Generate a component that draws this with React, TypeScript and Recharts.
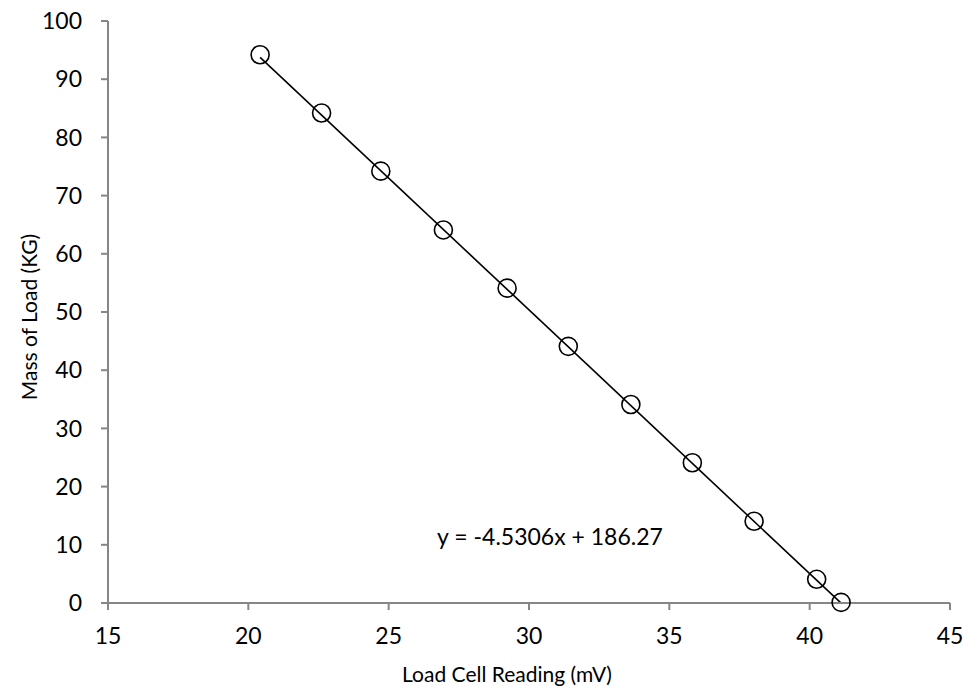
import React from 'react';
import { ScatterChart, Scatter, XAxis, YAxis, ReferenceLine } from 'recharts';

// load cell calibration readings
const readingsMv = [20.42, 22.61, 24.72, 26.95, 29.22, 31.4, 33.63, 35.82, 38.02, 40.25, 41.12];
const massKg = [94.2, 84.2, 74.2, 64.1, 54.1, 44.1, 34.1, 24.1, 14.05, 4.07, 0.1];

const xTicks = [15, 20, 25, 30, 35, 40, 45];
const yTicks = [0, 10, 20, 30, 40, 50, 60, 70, 80, 90, 100];

// linear fit shown on the chart
const slope = -4.5306;
const intercept = 186.27;
const equationText = 'y = -4.5306x + 186.27';

const points = readingsMv.map((x, i) => ({ x, y: massKg[i] }));
const xMin = Math.min(...readingsMv);
const xMax = Math.max(...readingsMv);
const fitSegment = [
  { x: xMin, y: slope * xMin + intercept },
  { x: xMax, y: slope * xMax + intercept },
];

const FONT = 'Lato, "Open Sans", sans-serif';
const AXIS = '#868686';

const Ring = (props: any) => (
  <circle cx={props.cx} cy={props.cy} r={9} fill="none" stroke="#000" strokeWidth={1.6} />
);

export default function App() {
  return (
    <div style={{ position: 'absolute', left: 0, top: 0, width: 968, height: 691, background: '#fff' }}>
      <ScatterChart width={968} height={691} margin={{ top: 21, right: 18, bottom: 0, left: 0 }}>
        <XAxis
          type="number"
          dataKey="x"
          domain={[15, 45]}
          ticks={xTicks}
          height={88}
          stroke={AXIS}
          strokeWidth={2}
          tickSize={7}
          tickMargin={18}
          tick={{ fill: '#000', fontSize: 23, fontFamily: FONT }}
        />
        <YAxis
          type="number"
          dataKey="y"
          domain={[0, 100]}
          ticks={yTicks}
          width={108}
          stroke={AXIS}
          strokeWidth={2}
          tickSize={7}
          tickMargin={19}
          tick={{ fill: '#000', fontSize: 23, fontFamily: FONT }}
        />
        <Scatter data={points} shape={Ring} isAnimationActive={false} />
        <ReferenceLine segment={fitSegment} stroke="#000" strokeWidth={1.6} ifOverflow="visible" />
        <text x={550} y={545} textAnchor="middle" fontSize={23} fontFamily={FONT} fill="#000">
          {equationText}
        </text>
        <text x={507} y={682} textAnchor="middle" fontSize={21} fontFamily={FONT} fill="#000">
          Load Cell Reading (mV)
        </text>
        <text
          x={37}
          y={317}
          textAnchor="middle"
          fontSize={21}
          fontFamily={FONT}
          fill="#000"
          transform="rotate(-90 37 317)"
        >
          Mass of Load (KG)
        </text>
      </ScatterChart>
    </div>
  );
}
